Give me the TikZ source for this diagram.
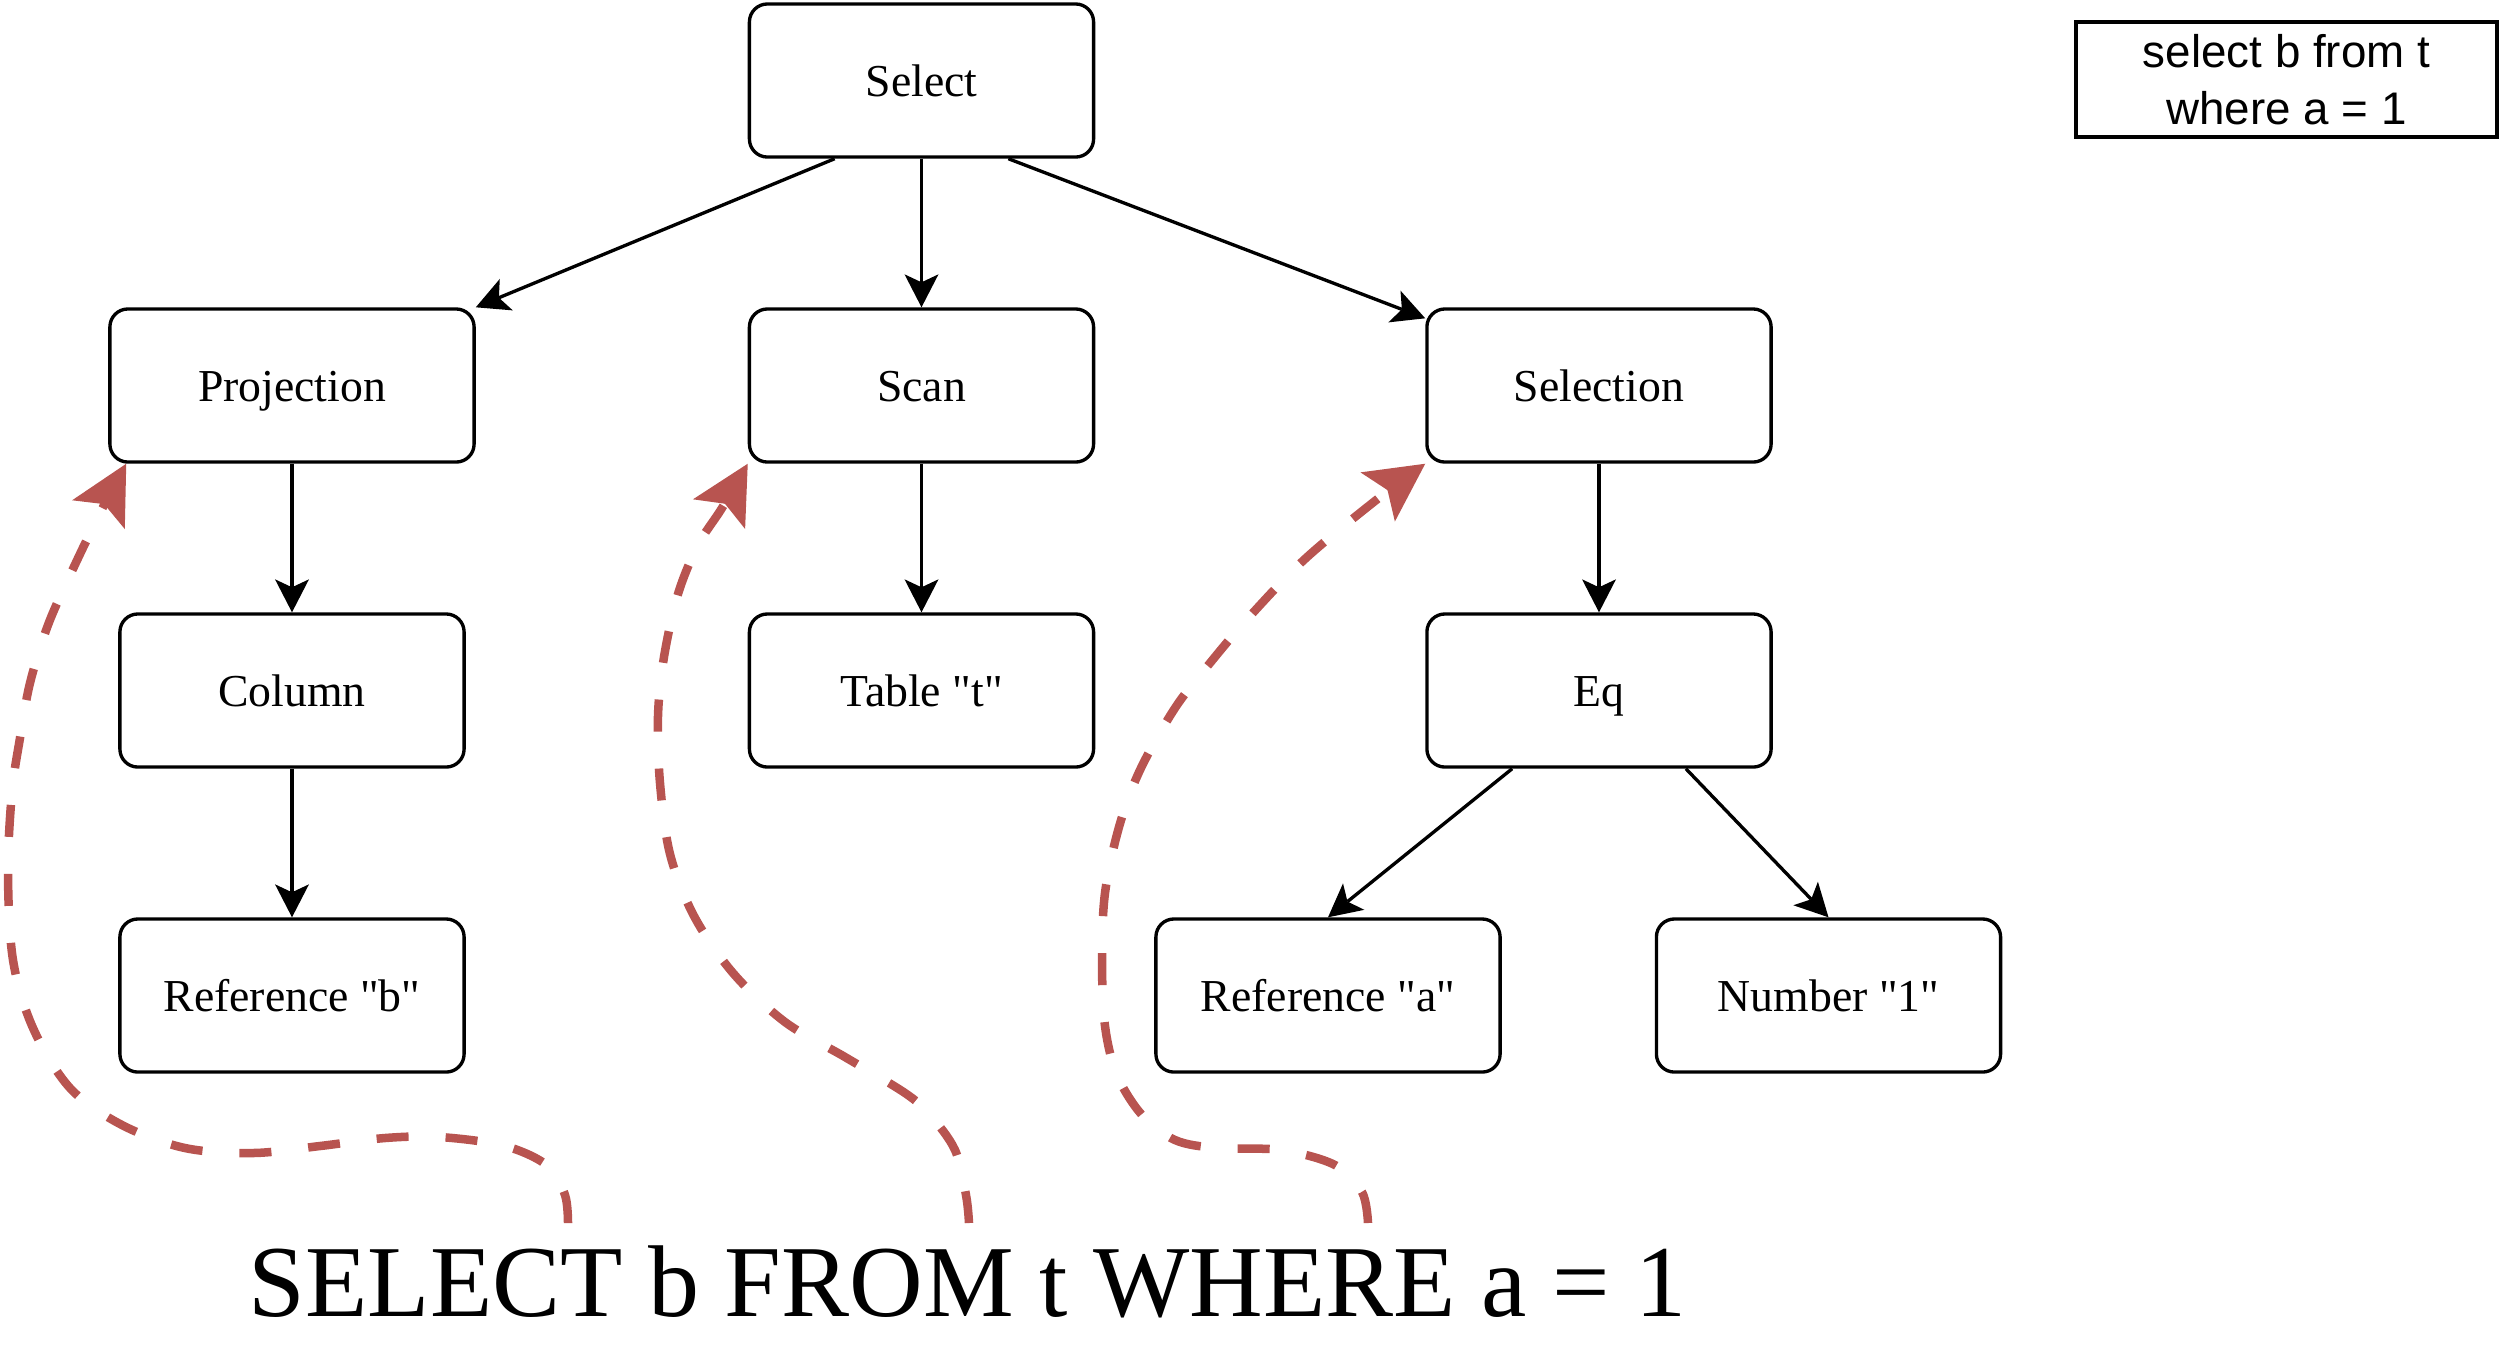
\documentclass[tikz,border=0pt]{standalone}
\usepackage{fontspec}
\setmainfont{Liberation Serif}
\newfontfamily\nodeserif{Liberation Serif}
\newfontfamily\boxsans{Liberation Sans}
\usetikzlibrary{arrows.meta,calc}
\definecolor{redline}{HTML}{B85450}
\begin{document}
\begin{tikzpicture}[x=0.01cm, y=-0.01cm,
  box/.style={draw, line width=0.95pt, rounded corners=0.18cm, minimum height=1.53cm,
    minimum width=3.44cm, inner sep=0pt, text height=9pt, text depth=0pt,
    font=\nodeserif\fontsize{13}{16}\selectfont},
  edge/.style={line width=0.95pt, -{Stealth[length=0.33cm, width=0.34cm, inset=0.08cm, line width=0pt]}},
  redarrow/.style={draw=redline, line width=0.085cm, dash pattern=on 0.32cm off 0.37cm,
    -{Stealth[length=0.58cm, width=0.6cm, inset=0.12cm, line width=0pt, fill=redline]}}]
\useasboundingbox (0,0) rectangle (2500,1344);

% tree nodes
\node[box] (select) at (921.5,80.5) {Select};
\node[box, minimum width=3.64cm] (proj) at (292,385.5) {Projection};
\node[box] (scan) at (921.5,385.5) {Scan};
\node[box] (selection) at (1599,385.5) {Selection};
\node[box] (column) at (292,690.5) {Column};
\node[box] (table) at (921.5,690.5) {Table "t"};
\node[box] (eq) at (1599,690.5) {Eq};
\node[box] (refb) at (292,995.5) {Reference "b"};
\node[box] (refa) at (1328,995.5) {Reference "a"};
\node[box] (num) at (1828.5,995.5) {Number "1"};

% sql box
\node[draw, line width=1pt, minimum width=4.21cm, minimum height=1.15cm, inner sep=0pt,
  align=center, font=\boxsans\fontsize{13}{16.2}\selectfont] (sql) at (2286.5,79.5)
  {select b from t\\where a = 1};

% query text
\node[anchor=base, inner sep=0pt, font=\nodeserif\fontsize{29}{35}\selectfont] (query) at (967.5,1316)
  {SELECT b FROM t WHERE a = 1};

% tree edges
\draw[edge] ($(select.south)!0.5!(select.south west)$) -- (proj.north east);
\draw[edge] (select) -- (scan);
\draw[edge] ($(select.south)!0.5!(select.south east)$) -- ([yshift=-0.11cm]selection.north west);
\draw[edge] (proj) -- (column);
\draw[edge] (column) -- (refb);
\draw[edge] (scan) -- (table);
\draw[edge] (selection) -- (eq);
\draw[edge] ($(eq.south)!0.5!(eq.south west)$) -- (refa.north);
\draw[edge] ($(eq.south)!0.5!(eq.south east)$) -- (num.north);

% red dashed mapping curves
\coordinate (qa) at (568,1223);
\coordinate (qb) at (969,1223);
\coordinate (qc) at (1368,1223);
\coordinate (ta) at ([xshift=0.18cm]proj.south west);
\coordinate (tb) at (scan.south west);
\coordinate (tc) at (selection.south west);

\draw[redarrow] plot[smooth, tension=0.55] coordinates {(qa) (565,1195) (548,1166) (505,1146)
  (440,1137) (385,1138) (320,1146) (253,1153) (185,1148) (122,1125) (70,1088) (33,1028)
  (13,960) (8,872) (12,792) (20,738) (30,683) (48,625) (72,571) (100,513) (ta)};

\draw[redarrow] plot[smooth, tension=0.55] coordinates {(qb) (966,1195) (955,1150) (930,1115)
  (905,1093) (845,1057) (785,1022) (733,973) (694,916) (670,854) (660,783) (658,716)
  (664,657) (678,594) (698,545) (722,508) (tb)};

\draw[redarrow] plot[smooth, tension=0.55] coordinates {(qc) (1362,1192) (1335,1165) (1281,1150)
  (1217,1148) (1175,1140) (1142,1115) (1117,1075) (1105,1026) (1102,960) (1105,893)
  (1119,827) (1140,770) (1175,708) (1210,663) (1250,616) (1306,558) (1380,497) (tc)};
\end{tikzpicture}
\end{document}
